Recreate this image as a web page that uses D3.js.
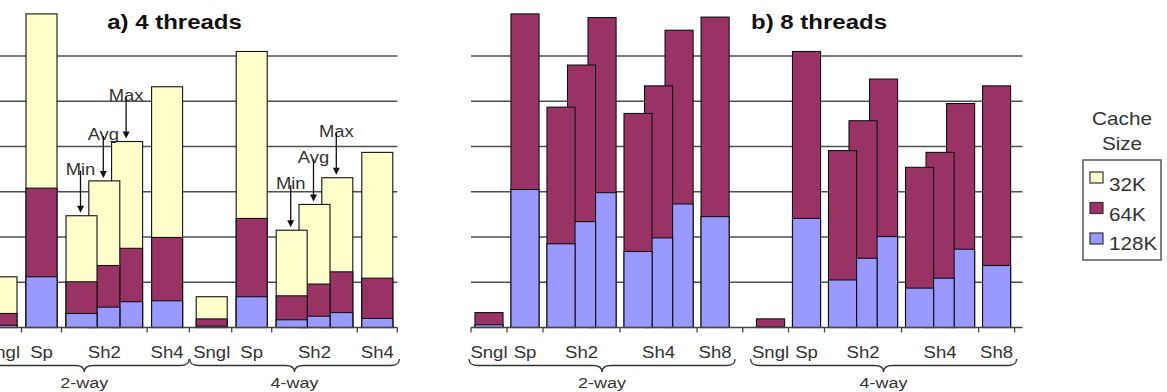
<!DOCTYPE html>
<html><head><meta charset="utf-8">
<script src="https://cdn.jsdelivr.net/npm/d3@7"></script>
<style>
html,body{margin:0;padding:0;background:#fff;overflow:hidden;}
svg{display:block;font-family:"Liberation Sans",Arial,sans-serif;}
</style></head><body>
<svg id="chart" width="1167" height="392"></svg>
<script>
// ---------------- data ----------------
const ways = ["2-way", "4-way"];
const variants = ["Min", "Avg", "Max"];
const configs4 = ["Sngl", "Sp", "Sh2", "Sh4"];
const configs8 = ["Sngl", "Sp", "Sh2", "Sh4", "Sh8"];
const grouped4 = ["Sh2"];          // configs shown as Min / Avg / Max
const grouped8 = ["Sh2", "Sh4"];
const cacheSizes = ["32K", "64K", "128K"];
const titles = ["a) 4 threads", "b) 8 threads"];
const gridValues = [1, 2, 3, 4, 5, 6];
const legendTitle = ["Cache", "Size"];

// 4 threads — per way: Sngl, Sp, Sh2 Min, Sh2 Avg, Sh2 Max, Sh4
const t4_32K  = [1.12, 6.93, 2.47, 3.24, 4.11, 5.32,   0.68, 6.10, 2.15, 2.72, 3.31, 3.87];
const t4_64K  = [0.31, 3.08, 1.01, 1.37, 1.75, 1.99,   0.19, 2.41, 0.70, 0.96, 1.23, 1.09];
const t4_128K = [0.05, 1.12, 0.31, 0.45, 0.57, 0.59,   0.03, 0.68, 0.17, 0.25, 0.33, 0.20];

// 8 threads — per way: Sngl, Sp, Sh2 Min/Avg/Max, Sh4 Min/Avg/Max, Sh8
const t8_32K  = null; // not shown in panel b
const t8_64K  = [0.33, 6.93, 4.87, 5.80, 6.85, 4.73, 5.34, 6.57, 6.86,   0.19, 6.10, 3.91, 4.57, 5.49, 3.54, 3.87, 4.95, 5.34];
const t8_128K = [0.06, 3.05, 1.85, 2.34, 2.98, 1.68, 1.98, 2.73, 2.45,   0.01, 2.41, 1.05, 1.53, 2.01, 0.87, 1.09, 1.73, 1.37];

// ---------------- style / layout ----------------
const colors = ["#FFFFCC", "#993366", "#9999FF"];
const SX = 1.16;           // horizontal stretch of the original's text
const yBase = 327.5, yUnit = 45.25;
const panels = [
  {configs: configs4, grouped: grouped4, series: [t4_32K, t4_64K, t4_128K],
   left: -18.5, step: 40, sub: 0.57, gap: 0.115, barW: 0.775, gridExtra: 0,
   titleX: 174.5, annotate: true},
  {configs: configs8, grouped: grouped8, series: [t8_32K, t8_64K, t8_128K],
   left: 471, step: 36, sub: 0.57, gap: 0.54, barW: 0.78, gridExtra: 8,
   titleX: 819, annotate: false}
];

const svg = d3.select("#chart");
const y = d3.scaleLinear().domain([0, 7]).range([yBase, yBase - 7 * yUnit]);

function stretched(g, txt, x, yy, opts) {
  const t = g.append("text")
    .attr("transform", `translate(${x},${yy}) scale(${opts.sx || SX},1)`)
    .attr("text-anchor", opts.anchor || "middle")
    .attr("font-size", opts.size)
    .attr("fill", opts.fill || "#222")
    .text(txt);
  if (opts.bold) t.attr("font-weight", "bold");
  return t;
}

function bracePath(x1, x2, yt, h) {
  const xm = (x1 + x2) / 2, r = 9;
  const p = d3.path();
  p.moveTo(x1, yt);
  p.quadraticCurveTo(x1, yt + h, x1 + r, yt + h);
  p.lineTo(xm - r, yt + h);
  p.quadraticCurveTo(xm, yt + h, xm, yt + 2 * h);
  p.quadraticCurveTo(xm, yt + h, xm + r, yt + h);
  p.lineTo(x2 - r, yt + h);
  p.quadraticCurveTo(x2, yt + h, x2, yt);
  return p.toString();
}

panels.forEach((P, pi) => {
  // ---- layout in category units ----
  const bars = [], labels = [], ticks = [], wayRanges = [];
  let u = 0, idx = 0;
  ways.forEach((w, wi) => {
    if (wi > 0) { ticks.push(u + P.gap / 2); u += P.gap; }
    else ticks.push(u);
    const wStart = u;
    P.configs.forEach((c, ci) => {
      const isG = P.grouped.includes(c);
      const n = isG ? variants.length : 1;
      const group = [];
      for (let k = 0; k < n; k++) {
        group.push({center: u + 0.5 + k * P.sub, i: idx++, variant: isG ? variants[k] : null, way: wi});
      }
      labels.push({text: c, center: (group[0].center + group[n - 1].center) / 2});
      bars.push(group);
      u += 1 + (n - 1) * P.sub;
      if (ci < P.configs.length - 1 || wi === ways.length - 1) ticks.push(u);
    });
    wayRanges.push({way: w, start: wStart, end: u});
  });
  const total = u;
  const x = d3.scaleLinear().domain([0, total]).range([P.left, P.left + total * P.step]);
  const bw = P.barW * P.step;
  const g = svg.append("g");
  const [x0, x1] = x.range();

  // gridlines
  g.selectAll("line.grid").data(gridValues).join("line")
    .attr("x1", x0).attr("x2", x1 + P.gridExtra)
    .attr("y1", d => y(d)).attr("y2", d => y(d))
    .attr("stroke", "#505050").attr("stroke-width", 1.3);

  // bars: within a group, draw Max first so Min is in front
  bars.forEach(group => {
    group.slice().reverse().forEach(b => {
      P.series.forEach((s, si) => {
        if (!s) return;
        const v = s[b.i];
        g.append("rect")
          .attr("x", x(b.center) - bw / 2).attr("width", bw)
          .attr("y", y(v)).attr("height", y(0) - y(v))
          .attr("fill", colors[si]).attr("stroke", "#111").attr("stroke-width", 1.1);
      });
    });
  });

  // axis baseline + tick marks
  g.append("line").attr("x1", x0).attr("x2", x1 + P.gridExtra)
    .attr("y1", y(0)).attr("y2", y(0)).attr("stroke", "#444").attr("stroke-width", 1.3);
  g.selectAll("line.tick").data(ticks).join("line")
    .attr("x1", d => x(d)).attr("x2", d => x(d))
    .attr("y1", y(0)).attr("y2", y(0) + 5)
    .attr("stroke", "#444").attr("stroke-width", 1.3);

  // category labels
  labels.forEach(l => stretched(g, l.text, x(l.center), 357.5, {size: 16, fill: "#333"}));

  // braces and way labels
  wayRanges.forEach(r => {
    const a = x(r.start) - 2, b = x(r.end) + 2;
    g.append("path").attr("d", bracePath(a, b, 359, 6.5))
      .attr("fill", "none").attr("stroke", "#333").attr("stroke-width", 1.3);
    stretched(g, r.way, (a + b) / 2, 387.5, {size: 15.5, fill: "#333"});
  });

  // title
  stretched(g, titles[pi], P.titleX, 29, {size: 20, bold: true, fill: "#111", sx: 1.2});

  // Min / Avg / Max annotations on the Sh2 group (panel a)
  if (P.annotate) {
    const top = P.series[0];
    bars.filter(gr => gr.length > 1).forEach(gr => {
      gr.forEach(b => {
        const bx = x(b.center) - 1, by = y(top[b.i]);
        const ly = by - 41;
        stretched(g, b.variant, bx, ly, {size: 16, fill: "#333", sx: 1.15});
        g.append("line").attr("x1", bx).attr("x2", bx)
          .attr("y1", ly - 4).attr("y2", by - 8)
          .attr("stroke", "#111").attr("stroke-width", 1.3);
        g.append("path")
          .attr("d", `M${bx - 3.5},${by - 10} L${bx + 3.5},${by - 10} L${bx},${by - 3} Z`)
          .attr("fill", "#111");
      });
    });
  }
});

// ---------------- legend ----------------
const lg = svg.append("g");
legendTitle.forEach((t, i) => stretched(lg, t, 1122, 125 + i * 25, {size: 18, fill: "#333", sx: 1.15}));
lg.append("rect").attr("x", 1083).attr("y", 160).attr("width", 78).attr("height", 100)
  .attr("fill", "#fff").attr("stroke", "#555").attr("stroke-width", 1.5);
cacheSizes.forEach((c, i) => {
  lg.append("rect").attr("x", 1090).attr("y", 172 + i * 30.5).attr("width", 13).attr("height", 11)
    .attr("fill", colors[i]).attr("stroke", "#333").attr("stroke-width", 1.2);
  stretched(lg, c, 1109, 191 + i * 29.5, {size: 18, fill: "#333", anchor: "start", sx: 1.15});
});
</script>
</body></html>
